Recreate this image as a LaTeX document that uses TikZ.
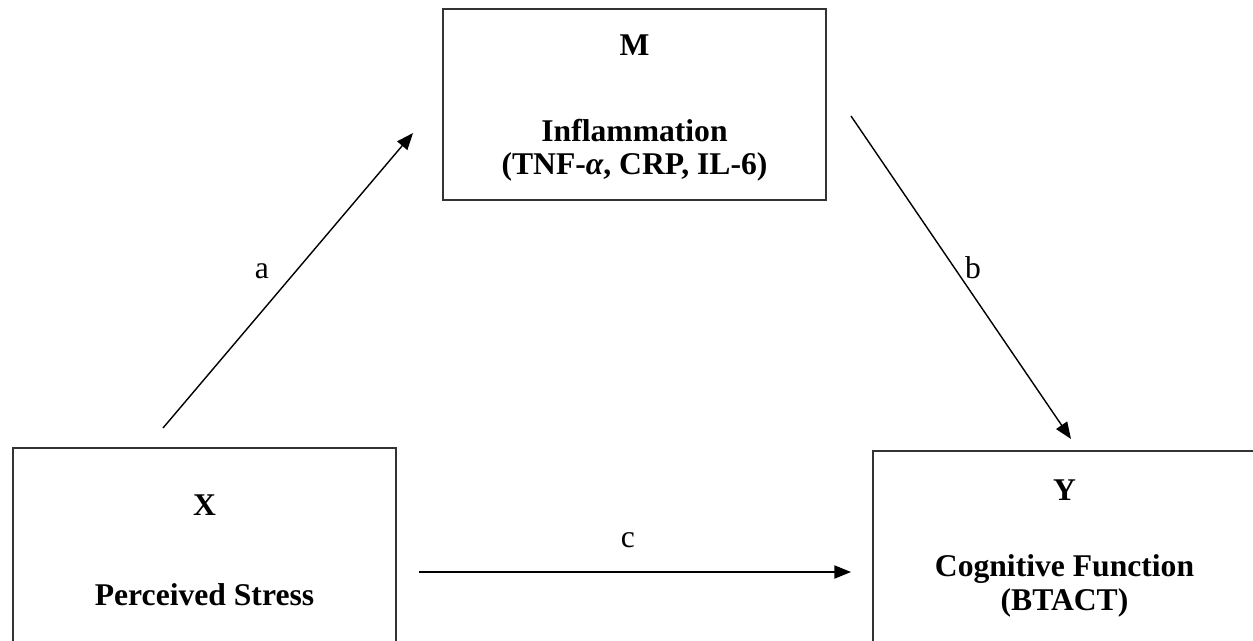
\documentclass[tikz,border=0pt]{standalone}
\usepackage{fontspec}
\setmainfont{Liberation Serif}
\usetikzlibrary{arrows.meta}

\tikzset{
  varbox/.style={draw=black!80, line width=1.1pt},
  vname/.style={font=\fontsize{18}{19}\selectfont\bfseries, align=center, inner sep=0pt},
  pathlbl/.style={font=\fontsize{18}{19}\selectfont, inner sep=0pt},
  path/.style={line width=0.8pt, -{Triangle[length=9.5pt, width=7.5pt]}},
}

\begin{document}
\begin{tikzpicture}[x=0.02cm, y=-0.02cm]
	\useasboundingbox (0,0) rectangle (1253,640);
	\clip (0,0) rectangle (1253,640);
	% boxes
	\draw[varbox] (443,9) rectangle (826,200);
	\draw[varbox] (13,448) rectangle (396,660);
	\draw[varbox] (873,451) rectangle (1270,660);
	% variables
	\node[vname] (M) at (634.5,45) {M};
	\node[vname] (Mtxt) at (634.5,150) {Inflammation\\(TNF-\textit{α}, CRP, IL-6)};
	\node[vname] (X) at (204.5,505) {X};
	\node[vname] (Xtxt) at (204.5,595) {Perceived Stress};
	\node[vname] (Y) at (1064.5,490) {Y};
	\node[vname] (Ytxt) at (1064.5,586) {Cognitive Function\\(BTACT)};
	% path ends
	\coordinate (a0) at (163,428);
	\coordinate (a1) at (413,133);
	\coordinate (b0) at (851,116);
	\coordinate (b1) at (1071,439);
	\coordinate (c0) at (419,572);
	\coordinate (c1) at (851,572);
	\draw[path] (a0) -- (a1);
	\draw[path] (b0) -- (b1);
	\draw[path] (c0) -- (c1);
	\node[pathlbl] (la) at (262,271) {a};
	\node[pathlbl] (lb) at (973,268) {b};
	\node[pathlbl] (lc) at (628,540) {c};
\end{tikzpicture}
\end{document}
